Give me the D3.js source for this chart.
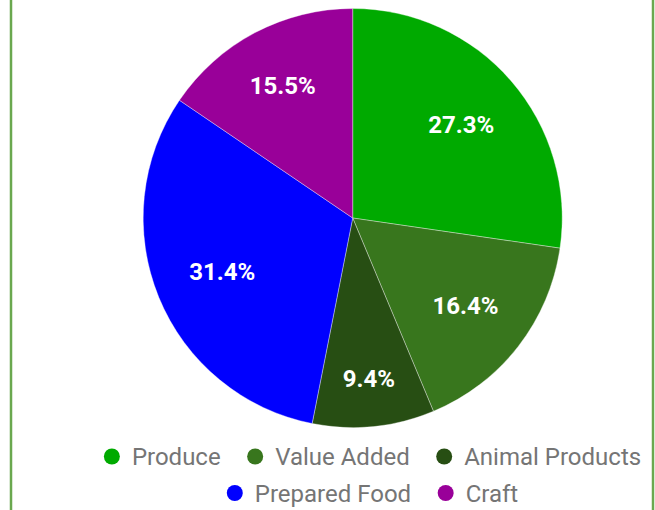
<!DOCTYPE html>
<html><head><meta charset="utf-8">
<script src="https://cdn.jsdelivr.net/npm/d3@7"></script>
<style>html,body{margin:0;padding:0;background:#fff;overflow:hidden}</style>
</head><body>
<svg id="chart" width="655" height="510"></svg>
<script>
const categories = ["Produce", "Value Added", "Animal Products", "Prepared Food", "Craft"];
const values = [27.3, 16.4, 9.4, 31.4, 15.5];
const colors = ["#00aa00", "#38761d", "#274e13", "#0000ff", "#990099"];
const legendRows = [[0, 1, 2], [3, 4]];

const svg = d3.select("#chart");
const W = 655, H = 510;
const cx = 352.7, cy = 218, R = 209.5;

// border
svg.append("rect").attr("x", 11).attr("y", -20).attr("width", 642).attr("height", H + 40)
  .attr("fill", "none").attr("stroke", "#6aa84f").attr("stroke-width", 2.5);

const data = categories.map((c, i) => ({cat: c, value: values[i], color: colors[i]}));
const pie = d3.pie().value(d => d.value).sort(null);
const arc = d3.arc().innerRadius(0).outerRadius(R);
const arcs = pie(data);

const g = svg.append("g").attr("transform", `translate(${cx},${cy})`);
g.selectAll("path").data(arcs).join("path")
  .attr("d", arc).attr("fill", d => d.data.color)
  .attr("stroke", "#ffffff").attr("stroke-width", 0.6).attr("stroke-opacity", 0.6);

// labels: pushed outward along the mid-angle until the outer corner of the text box
// reaches a fixed inner radius
const outerLimit = R * 0.835, halfH = 9;
g.selectAll("text").data(arcs).join("text")
  .attr("text-anchor", "middle").attr("dy", "0.36em")
  .attr("fill", "#ffffff").attr("font-family", "Roboto, sans-serif")
  .attr("font-weight", "bold").attr("font-size", 24)
  .text(d => d.data.value.toFixed(1) + "%")
  .each(function(d) {
    const halfW = this.getComputedTextLength() / 2;
    const a = (d.startAngle + d.endAngle) / 2;
    const ux = Math.sin(a), uy = -Math.cos(a);
    let lo = 0, hi = R;
    for (let k = 0; k < 40; k++) {
      const m = (lo + hi) / 2;
      const px = m * ux, py = m * uy;
      const fx = px + Math.sign(ux) * halfW, fy = py + Math.sign(uy) * halfH;
      if (Math.hypot(fx, fy) < outerLimit) lo = m; else hi = m;
    }
    d3.select(this).attr("transform", `translate(${lo * ux},${lo * uy})`);
  });

// legend
const rowY = [456.5, 493];
const centerX = 372.5, gap = 26.5, dotR = 8, textOff = 20;
legendRows.forEach((row, ri) => {
  const lg = svg.append("g");
  const items = row.map(i => {
    const it = lg.append("g");
    it.append("circle").attr("r", dotR).attr("fill", colors[i]);
    const t = it.append("text").attr("x", textOff).attr("dy", "0.36em")
      .attr("font-family", "Roboto, sans-serif").attr("font-size", 24)
      .attr("fill", "#757575").text(categories[i]);
    return {it, w: textOff + t.node().getComputedTextLength()};
  });
  const total = d3.sum(items, d => d.w + dotR) + gap * (items.length - 1);
  let x = centerX - total / 2;
  items.forEach(d => {
    d.it.attr("transform", `translate(${x + dotR},${rowY[ri]})`);
    x += d.w + dotR + gap;
  });
});
</script>
</body></html>
